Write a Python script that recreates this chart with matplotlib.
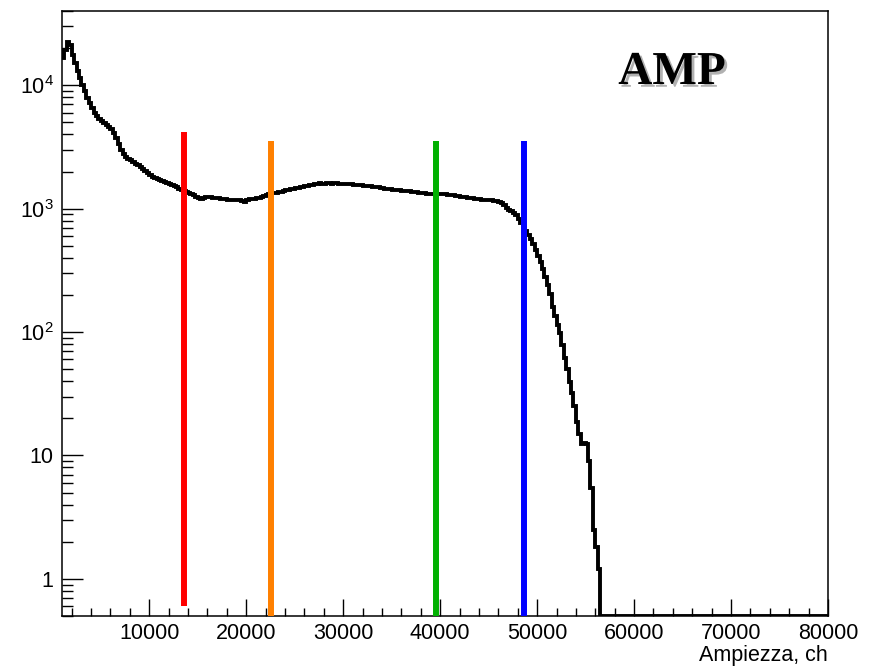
import numpy as np
import matplotlib
matplotlib.use("Agg")
from matplotlib import pyplot as plt
from matplotlib import patheffects
from matplotlib.ticker import MultipleLocator, FixedLocator, FixedFormatter, LogLocator, NullFormatter

plt.rcParams['font.family'] = ['Liberation Sans', 'DejaVu Sans']
plt.rcParams['mathtext.fontset'] = 'custom'
plt.rcParams['mathtext.rm'] = 'Liberation Sans'

# histogram: 250-channel bins from 1000 to 80000
bin_lo = 1000
bin_hi = 80000
bin_w = 250
counts = [16500, 19500, 22400, 21200, 17600, 15100, 13000, 11400, 10100, 9000,
          7950, 7150, 6500, 5950, 5600, 5350, 5170, 4950, 4800, 4600,
          4450, 4100, 3720, 3350, 2980, 2760, 2640, 2540, 2460, 2390,
          2310, 2240, 2180, 2110, 2030, 1950, 1880, 1820, 1780, 1740,
          1700, 1670, 1640, 1615, 1580, 1550, 1520, 1485, 1445, 1415,
          1380, 1355, 1330, 1310, 1290, 1250, 1215, 1205, 1225, 1235,
          1245, 1240, 1225, 1215, 1210, 1205, 1195, 1200, 1185, 1180,
          1178, 1172, 1168, 1165, 1160, 1135, 1170, 1190, 1195, 1200,
          1210, 1220, 1245, 1265, 1295, 1315, 1330, 1340, 1350, 1360,
          1372, 1385, 1405, 1420, 1435, 1452, 1465, 1480, 1495, 1505,
          1522, 1535, 1550, 1565, 1585, 1590, 1600, 1590, 1598, 1605,
          1600, 1595, 1608, 1603, 1592, 1588, 1596, 1590, 1594, 1585,
          1570, 1562, 1555, 1548, 1540, 1532, 1525, 1515, 1508, 1500,
          1490, 1480, 1468, 1455, 1442, 1432, 1425, 1418, 1412, 1405,
          1400, 1392, 1385, 1380, 1375, 1370, 1363, 1352, 1343, 1335,
          1325, 1317, 1313, 1310, 1308, 1315, 1322, 1318, 1305, 1298,
          1287, 1280, 1270, 1262, 1252, 1243, 1233, 1225, 1216, 1210,
          1202, 1195, 1190, 1186, 1182, 1178, 1173, 1168, 1160, 1145,
          1125, 1105, 1065, 1010, 975, 950, 915, 883, 820, 765,
          715, 660, 615, 565, 515, 460, 417, 370, 325, 280,
          240, 205, 160, 135, 115, 98, 78, 62, 50, 39.5,
          32, 25, 18.5, 15, 12.5, 12.6, 12.5, 9, 5.5, 2.5,
          1.8, 1.2]

# threshold cuts
cut_pos = [13600, 22600, 39600, 48600]
cut_colors = ['#ff0000', '#ff8000', '#00b000', '#0000ff']
cut_low = [0.6, 0.5, 0.5, 0.5]
cut_high = [4200, 3550, 3550, 3550]

title = "AMP"
xlabel = "Ampiezza, ch"
ytick_vals = [1, 10, 100, 1000, 10000]
ytick_labels = ['1', '10', '$10^{2}$', '$10^{3}$', '$10^{4}$']

edges = np.arange(bin_lo, bin_hi + 1, bin_w)
n_bins = len(edges) - 1
h = np.array(counts + [0] * (n_bins - len(counts)), dtype=float)
ymin, ymax = 0.5, 40000

fig = plt.figure(figsize=(8.76, 6.70), dpi=100)
ax = fig.add_axes([62/876, 1-616/670, 766/876, 605/670])

ax.stairs(np.clip(h, ymin, None), edges, color='black', linewidth=2.8, baseline=None)
for xp, c, lo, hi in zip(cut_pos, cut_colors, cut_low, cut_high):
    ax.plot([xp, xp], [lo, hi], color=c, linewidth=4.3, solid_capstyle='butt', zorder=5)

ax.set_yscale('log')
ax.set_xlim(bin_lo, bin_hi)
ax.set_ylim(ymin, ymax)

ax.xaxis.set_major_locator(MultipleLocator(10000))
ax.xaxis.set_minor_locator(MultipleLocator(2000))
ax.yaxis.set_major_locator(FixedLocator(ytick_vals))
ax.yaxis.set_major_formatter(FixedFormatter(ytick_labels))
ax.yaxis.set_minor_locator(LogLocator(base=10, subs=np.arange(2, 10)))
ax.yaxis.set_minor_formatter(NullFormatter())

ax.tick_params(axis='x', which='major', direction='in', length=12, width=1, labelsize=15.5, pad=5)
ax.tick_params(axis='x', which='minor', direction='in', length=6, width=1)
ax.tick_params(axis='y', which='major', direction='in', length=15, width=1, labelsize=15.5, pad=6)
ax.tick_params(axis='y', which='minor', direction='in', length=8, width=1)
for s in ax.spines.values():
    s.set_linewidth(1.1)

fig.text(828/876, 1-655/670, xlabel, ha='right', va='center', fontsize=15.5)

fig.text(672/876, 1-73/670, title, ha='center', va='center', fontsize=34,
         fontweight='bold', family='Liberation Serif', color='black',
         path_effects=[patheffects.SimplePatchShadow(offset=(2, -2), shadow_rgbFace='#909090', alpha=0.7),
                       patheffects.Normal()])

plt.savefig('out.png', dpi=100)
